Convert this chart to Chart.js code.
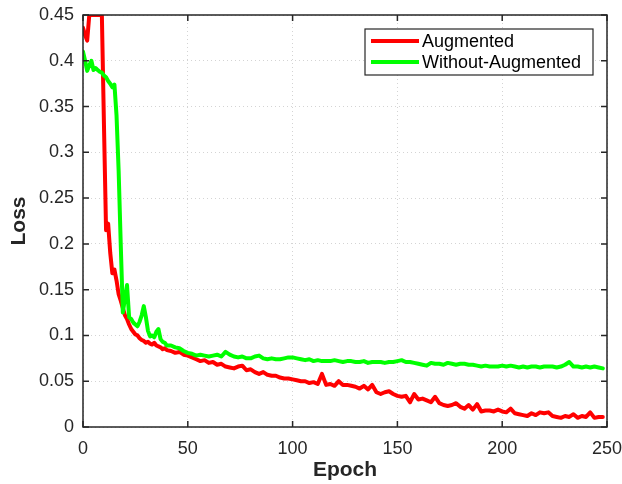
<!DOCTYPE html>
<html>
<head>
<meta charset="utf-8">
<script src="https://cdn.jsdelivr.net/npm/chart.js@4"></script>
<style>
  body { margin: 0; background: #fff; }
</style>
</head>
<body>
<canvas id="loss" width="622" height="484"></canvas>
<script>
var epochs = [
  0, 1, 2, 3, 4, 5, 6, 7, 8, 9, 10, 11, 12, 13, 14, 15, 16, 17, 18, 19, 20,
  21, 22, 23, 24, 25, 26, 27, 28, 29, 30, 31, 32, 33, 34, 35, 36, 37, 38, 39, 40,
  42, 44, 46, 48, 50, 52, 54, 56, 58, 60, 62, 64, 66, 68, 70, 72, 74, 76, 78, 80,
  82, 84, 86, 88, 90, 92, 94, 96, 98, 100, 102, 104, 106, 108, 110, 112, 114, 116, 118, 120,
  122, 124, 126, 128, 130, 132, 134, 136, 138, 140, 142, 144, 146, 148, 150, 152, 154, 156, 158, 160,
  162, 164, 166, 168, 170, 172, 174, 176, 178, 180, 182, 184, 186, 188, 190, 192, 194, 196, 198, 200,
  202, 204, 206, 208, 210, 212, 214, 216, 218, 220, 222, 224, 226, 228, 230, 232, 234, 236, 238, 240,
  242, 244, 246, 248
];

var augmented = [
  0.436, 0.428, 0.422, 0.45, 0.45, 0.45, 0.45, 0.45, 0.45, 0.45, 0.33, 0.215, 0.222, 0.19, 0.168, 0.172, 0.16, 0.145, 0.138, 0.13, 0.122,
  0.118, 0.112, 0.107, 0.104, 0.101, 0.1, 0.097, 0.095, 0.094, 0.092, 0.093, 0.091, 0.09, 0.092, 0.089, 0.088, 0.087, 0.085, 0.086, 0.084,
  0.083, 0.081, 0.082, 0.079, 0.078, 0.076, 0.074, 0.072, 0.073, 0.07, 0.071, 0.068, 0.069, 0.066, 0.065, 0.064, 0.066, 0.067, 0.062, 0.063,
  0.06, 0.058, 0.06, 0.057, 0.056, 0.056, 0.054, 0.053, 0.053, 0.052, 0.051, 0.05, 0.05, 0.048, 0.049, 0.047, 0.058, 0.046, 0.047, 0.045,
  0.05, 0.046, 0.046, 0.045, 0.044, 0.042, 0.045, 0.041, 0.046, 0.038, 0.036, 0.038, 0.039, 0.036, 0.034, 0.033, 0.034, 0.027, 0.036, 0.03,
  0.031, 0.029, 0.027, 0.033, 0.026, 0.024, 0.023, 0.024, 0.026, 0.022, 0.02, 0.024, 0.019, 0.025, 0.017, 0.018, 0.018, 0.017, 0.019, 0.017,
  0.016, 0.02, 0.015, 0.014, 0.013, 0.012, 0.015, 0.013, 0.016, 0.015, 0.016, 0.012, 0.011, 0.01, 0.012, 0.011, 0.014, 0.01, 0.012, 0.011,
  0.016, 0.01, 0.011, 0.011
];

var withoutAugmented = [
  0.41, 0.4, 0.389, 0.395, 0.4, 0.39, 0.392, 0.39, 0.388, 0.387, 0.384, 0.382, 0.378, 0.375, 0.371, 0.374, 0.34, 0.28, 0.2, 0.125, 0.14,
  0.155, 0.12, 0.118, 0.114, 0.112, 0.11, 0.115, 0.122, 0.132, 0.12, 0.105, 0.099, 0.1, 0.098, 0.104, 0.107, 0.096, 0.093, 0.092, 0.089,
  0.089, 0.087, 0.086, 0.083, 0.081, 0.08, 0.078, 0.079, 0.078, 0.077, 0.078, 0.079, 0.077, 0.082, 0.079, 0.077, 0.076, 0.077, 0.075, 0.075,
  0.077, 0.078, 0.075, 0.074, 0.075, 0.074, 0.074, 0.075, 0.076, 0.076, 0.075, 0.074, 0.073, 0.074, 0.072, 0.073, 0.072, 0.072, 0.072, 0.073,
  0.072, 0.071, 0.072, 0.072, 0.071, 0.071, 0.072, 0.07, 0.071, 0.071, 0.071, 0.07, 0.071, 0.071, 0.072, 0.073, 0.071, 0.071, 0.07, 0.069,
  0.068, 0.067, 0.07, 0.069, 0.069, 0.068, 0.07, 0.069, 0.068, 0.069, 0.069, 0.068, 0.068, 0.067, 0.066, 0.067, 0.066, 0.066, 0.066, 0.067,
  0.066, 0.067, 0.066, 0.065, 0.066, 0.065, 0.066, 0.066, 0.065, 0.066, 0.066, 0.066, 0.065, 0.066, 0.068, 0.071, 0.066, 0.066, 0.065, 0.066,
  0.065, 0.066, 0.065, 0.064
];

var xTicks = [0, 50, 100, 150, 200, 250];
var yTicks = [0, 0.05, 0.1, 0.15, 0.2, 0.25, 0.3, 0.35, 0.4, 0.45];

var FONT = "'Liberation Sans', Arial, sans-serif";
var AXIS = '#262626';

function points(ys) {
  return ys.map(function (v, i) { return { x: epochs[i], y: v }; });
}

// frame, inward ticks on all four sides, legend box
var matlabBox = {
  id: 'matlabBox',
  afterDatasetsDraw: function (chart) {
    var c = chart.ctx, a = chart.chartArea;
    var sx = chart.scales.x, sy = chart.scales.y;
    c.save();
    c.strokeStyle = AXIS;
    c.lineWidth = 1.5;
    c.setLineDash([]);
    c.strokeRect(a.left, a.top, a.right - a.left, a.bottom - a.top);
    c.beginPath();
    xTicks.forEach(function (t) {
      var px = sx.getPixelForValue(t);
      c.moveTo(px, a.bottom); c.lineTo(px, a.bottom - 6);
      c.moveTo(px, a.top); c.lineTo(px, a.top + 6);
    });
    yTicks.forEach(function (t) {
      var py = sy.getPixelForValue(t);
      c.moveTo(a.left, py); c.lineTo(a.left + 6, py);
      c.moveTo(a.right, py); c.lineTo(a.right - 6, py);
    });
    c.stroke();

    // legend
    var lx = 365, ly = 29, lw = 228, lh = 46;
    c.fillStyle = '#fff';
    c.fillRect(lx, ly, lw, lh);
    c.strokeStyle = '#262626';
    c.lineWidth = 1.2;
    c.strokeRect(lx, ly, lw, lh);
    var rows = [chart.data.datasets[1], chart.data.datasets[0]];
    c.font = '18px ' + FONT;
    c.textBaseline = 'middle';
    rows.forEach(function (ds, i) {
      var y = ly + 12 + i * 21;
      c.strokeStyle = ds.borderColor;
      c.lineWidth = 4;
      c.beginPath();
      c.moveTo(lx + 6, y); c.lineTo(lx + 54, y);
      c.stroke();
      c.fillStyle = '#000';
      c.fillText(ds.label, lx + 57, y + 1);
    });
    c.restore();
  }
};

new Chart(document.getElementById('loss'), {
  type: 'line',
  data: {
    datasets: [
      {
        label: 'Without-Augmented',
        data: points(withoutAugmented),
        borderColor: '#00ff00',
        borderWidth: 4,
        borderJoinStyle: 'round',
        borderCapStyle: 'round',
        pointRadius: 0,
        tension: 0,
        order: 0
      },
      {
        label: 'Augmented',
        data: points(augmented),
        borderColor: '#ff0000',
        borderWidth: 4,
        borderJoinStyle: 'round',
        borderCapStyle: 'round',
        pointRadius: 0,
        tension: 0,
        order: 1
      }
    ]
  },
  options: {
    responsive: false,
    animation: false,
    layout: { padding: { top: 15, right: 15 } },
    plugins: { legend: { display: false }, tooltip: { enabled: false } },
    scales: {
      x: {
        type: 'linear',
        min: 0,
        max: 250,
        afterFit: function (s) { s.height = 57; s.paddingLeft = 0; s.paddingRight = 0; },
        afterBuildTicks: function (s) { s.ticks = xTicks.map(function (v) { return { value: v }; }); },
        ticks: { color: AXIS, padding: 11, maxRotation: 0, font: { family: FONT, size: 18 } },
        grid: { drawTicks: false, color: 'rgba(38,38,38,0.2)', lineWidth: 1 },
        border: { display: false, dash: [1, 3] },
        title: { display: true, text: 'Epoch', color: AXIS, padding: { top: 0, bottom: 1 },
                 font: { family: FONT, size: 21, weight: 'bold' } }
      },
      y: {
        min: 0,
        max: 0.45,
        afterFit: function (s) { s.width = 83; s.paddingTop = 0; s.paddingBottom = 0; },
        afterBuildTicks: function (s) { s.ticks = yTicks.map(function (v) { return { value: v }; }); },
        ticks: {
          color: AXIS, padding: 9, font: { family: FONT, size: 18 },
          callback: function (v) { return String(parseFloat(v.toFixed(2))); }
        },
        grid: { drawTicks: false, color: 'rgba(38,38,38,0.2)', lineWidth: 1 },
        border: { display: false, dash: [1, 3] },
        title: { display: true, text: 'Loss', color: AXIS, padding: { top: 7, bottom: 0 },
                 font: { family: FONT, size: 21, weight: 'bold' } }
      }
    }
  },
  plugins: [matlabBox]
});
</script>
</body>
</html>
